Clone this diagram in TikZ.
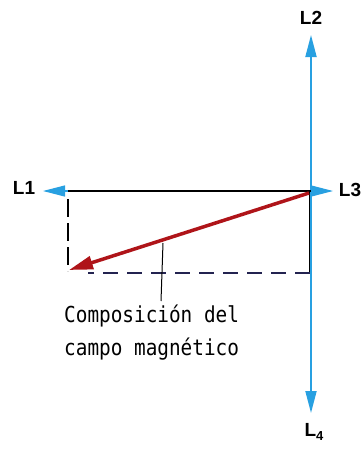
\documentclass[tikz,border=0pt]{standalone}
\usepackage{fontspec}
\setmainfont{Liberation Sans}
\newfontfamily\monofnt[FakeStretch=0.88]{DejaVu Sans Mono}
\usetikzlibrary{arrows.meta}
\definecolor{fieldblue}{RGB}{40,160,225}
\definecolor{resred}{RGB}{175,20,25}
\definecolor{dashnavy}{RGB}{35,35,80}
\tikzset{
  lbl/.style={font=\fontsize{19}{21}\selectfont\bfseries, inner sep=0pt},
  bluearrow/.style={draw=fieldblue, line width=1.8pt, -{Triangle[length=22pt,width=11pt]}},
  dashline/.style={line width=1.6pt, dash pattern=on 15pt off 9pt},
  vdash/.style={line width=1.6pt, dash pattern=on 18pt off 6pt},
  note/.style={font=\monofnt\fontsize{22}{33}\selectfont, align=left, inner sep=0pt}
}
\begin{document}
\begin{tikzpicture}[x=1pt,y=-1pt]
\useasboundingbox (0,0) rectangle (362,459);
\fill[white] (0,0) rectangle (362,459);
\coordinate (O) at (311,191);
\coordinate (T2) at (311,35);
\coordinate (T4) at (311,413);
\coordinate (T3) at (333,191);
\coordinate (C1) at (68,191);
\coordinate (T1) at (43,191);
\coordinate (BR) at (309.5,273);
\coordinate (RT) at (69,270);
\coordinate (LA) at (163,243);
\coordinate (LB) at (161,301);
% vertical blue axis
\draw[bluearrow] (O) -- (T2);
\draw[bluearrow] (O) -- (T4);
\draw[bluearrow, line width=1.2pt] (O) -- (T3);
% black horizontal line
\draw[line width=2.4pt] (O) -- (C1);
\draw[bluearrow, line width=1.2pt] (C1) -- (T1);
% rectangle sides
\draw[line width=1.6pt] (309.5,191) -- (BR);
\draw[vdash] (68,199) -- (68,271);
\draw[dashline, draw=dashnavy] (BR) -- (88,273);
% red resultant
\draw[draw=resred, line width=3.5pt, -{Triangle[length=24pt,width=13pt]}] (309,193) -- (RT);
% leader
\draw[line width=1pt] (LA) -- (LB);
% labels
\node[lbl] (L1) at (24,188) {L1};
\node[lbl] (L2) at (311,18) {L2};
\node[lbl] (L3) at (350,190) {L3};
\node[lbl] (L4) at (314,432) {L\raisebox{-4pt}{\fontsize{13}{14}\selectfont\bfseries 4}};
\node[note, anchor=north west] (N) at (64,305) {Composición del\\campo magnético};
\end{tikzpicture}
\end{document}
